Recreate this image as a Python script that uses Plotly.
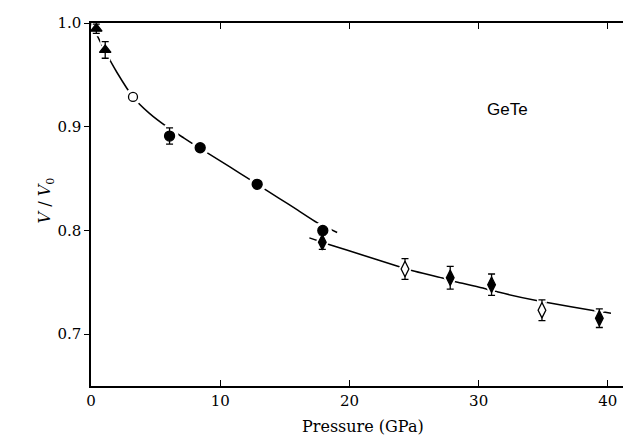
import plotly.graph_objects as go

# ---- data ----
tri_p = [0.41, 1.1]
tri_v = [0.9945, 0.974]
tri_err = [0.0045, 0.008]

ocirc_p = [3.25]
ocirc_v = [0.9287]

fcirc_p = [6.08, 8.45, 12.86, 17.94]
fcirc_v = [0.891, 0.8797, 0.8445, 0.800]
fcirc_err = [0.0078, 0.0, 0.0, 0.0]

fdia_p = [17.9, 27.8, 31.0, 39.34]
fdia_v = [0.7887, 0.7544, 0.7477, 0.7154]
fdia_err = [0.007, 0.011, 0.0103, 0.009]

odia_p = [24.3, 34.9]
odia_v = [0.7628, 0.7231]
odia_err = [0.010, 0.010]

fit1_p = [0, 1.0, 2.0, 3.25, 4.5, 6.0, 7.2, 8.5, 10.0, 11.5, 12.86, 14.5, 16.0, 17.5, 19.05]
fit1_v = [1.0, 0.975, 0.9525, 0.9287, 0.9131, 0.8988, 0.889, 0.8787, 0.867, 0.8553, 0.8445, 0.8315, 0.8195, 0.8075, 0.798]

fit2_p = [16.9, 18.54, 21.0, 23.74, 24.9, 27.2, 28.38, 30.45, 31.6, 34.57, 35.3, 38.96, 40.24]
fit2_v = [0.7928, 0.786, 0.7763, 0.7654, 0.7612, 0.7541, 0.750, 0.7441, 0.7403, 0.7322, 0.7306, 0.7225, 0.7202]

x_ticks = [0, 10, 20, 30, 40]
y_ticks = [0.7, 0.8, 0.9, 1.0]
y_tick_text = ["0.7", "0.8", "0.9", "1.0"]

SERIF = "DejaVu Serif"

fig = go.Figure()

# fitted curves
for p, v in [(fit1_p, fit1_v), (fit2_p, fit2_v)]:
    fig.add_trace(go.Scatter(x=p, y=v, mode="lines",
                             line=dict(color="black", width=1.5, shape="spline", smoothing=0.6),
                             hoverinfo="skip", showlegend=False))

# marker groups: (x, y, err, symbol, size, fill)
groups = [
    (tri_p, tri_v, tri_err, "triangle-up", 10, "black"),
    (ocirc_p, ocirc_v, None, "circle", 9, "white"),
    (fcirc_p, fcirc_v, fcirc_err, "circle", 10, "black"),
    (fdia_p, fdia_v, fdia_err, "diamond-tall", 11, "black"),
    (odia_p, odia_v, odia_err, "diamond-tall", 11, "white"),
]

# white halos that interrupt the curve around markers and error bars
for x, y, err, sym, size, fill in groups:
    ey = dict(type="data", array=err, color="white", thickness=6, width=5, visible=True) if err else None
    fig.add_trace(go.Scatter(x=x, y=y, mode="markers",
                             marker=dict(symbol=sym, size=size + 8, color="white",
                                         line=dict(color="white", width=0)),
                             error_y=ey, hoverinfo="skip", showlegend=False))

# actual markers
for x, y, err, sym, size, fill in groups:
    ey = dict(type="data", array=err, color="black", thickness=1.3, width=3.5, visible=True) if err else None
    fig.add_trace(go.Scatter(x=x, y=y, mode="markers",
                             marker=dict(symbol=sym, size=size, color=fill,
                                         line=dict(color="black", width=1.3)),
                             error_y=ey, showlegend=False))

# invisible trace for the right-hand axis
fig.add_trace(go.Scatter(x=[0], y=[0.65], yaxis="y2", mode="markers",
                         marker=dict(opacity=0), hoverinfo="skip", showlegend=False))

fig.update_layout(
    width=631, height=437,
    margin=dict(l=83, r=4, t=15, b=59),
    paper_bgcolor="white", plot_bgcolor="white",
    font=dict(family=SERIF, color="black", size=15),
    xaxis=dict(range=[0, 42.1], tickvals=x_ticks, ticks="inside", ticklen=6,
               tickwidth=1.3, tickcolor="black", showline=True, linecolor="black",
               linewidth=1.5, mirror="ticks", showgrid=False, zeroline=False,
               tickfont=dict(family=SERIF, size=15)),
    yaxis=dict(range=[0.65, 1.0], tickvals=y_ticks, ticktext=y_tick_text,
               ticks="outside", ticklen=5, tickwidth=1.3, tickcolor="black",
               showline=True, linecolor="black", linewidth=1.5, showgrid=False,
               zeroline=False, tickfont=dict(family=SERIF, size=15)),
    yaxis2=dict(range=[0.65, 1.0], overlaying="y", side="right", tickvals=y_ticks,
                ticks="inside", ticklen=6, tickwidth=1.3, tickcolor="black",
                showticklabels=False, showline=True, linecolor="black",
                linewidth=1.5, showgrid=False, zeroline=False),
    annotations=[
        dict(x=32.25, y=0.917, xref="x", yref="y", text="GeTe", showarrow=False,
             font=dict(family="Liberation Sans", size=17, color="black")),
        dict(x=0.5, y=-0.143, xref="paper", yref="paper", text="Pressure (GPa)",
             showarrow=False, font=dict(family=SERIF, size=16, color="black")),
        dict(x=-0.107, y=0.512, xref="paper", yref="paper",
             text="<i>V</i> / <i>V</i><sub>0</sub>", textangle=-90, showarrow=False,
             font=dict(family=SERIF, size=16, color="black")),
    ],
)

fig.write_html("out.html")
